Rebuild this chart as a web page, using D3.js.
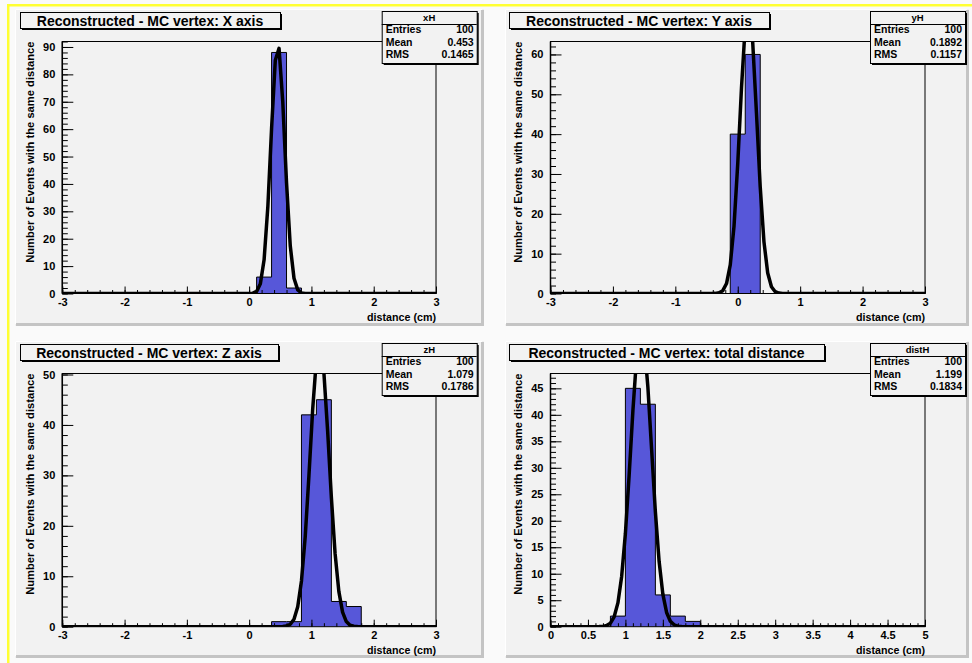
<!DOCTYPE html>
<html lang="en">
<head>
<meta charset="utf-8">
<title>Reconstructed - MC vertex</title>
<script src="https://d3js.org/d3.v7.min.js"></script>
<style>
  body { margin: 0; background: #fff; }
  svg text { font-family: "Liberation Sans", Arial, Helvetica, sans-serif; font-weight: bold; fill: #000; }
</style>
</head>
<body>
<script>
// titles and stats box texts
const titles = [
  "Reconstructed - MC vertex: X axis",
  "Reconstructed - MC vertex: Y axis",
  "Reconstructed - MC vertex: Z axis",
  "Reconstructed - MC vertex: total distance"
];
const histNames = ["xH", "yH", "zH", "distH"];
const entries = ["100", "100", "100", "100"];
const means = ["0.453", "0.1892", "1.079", "1.199"];
const rmsValues = ["0.1465", "0.1157", "0.1786", "0.1834"];

// axis ranges
const xRanges = [[-3, 3], [-3, 3], [-3, 3], [0, 5]];
const yMaxes = [92, 63.25, 50.2, 47.8];
const xMajorStep = [1, 1, 1, 0.5];
const xMinorStep = [0.2, 0.2, 0.2, 0.1];
const yMajorStep = [10, 10, 10, 5];
const yMinorStep = [2, 2, 2, 1];

// bin contents (25 bins each)
const xCounts    = [0,0,0,0,0,0,0,0,0,0,0,0,0,6,88,2,0,0,0,0,0,0,0,0,0];
const yCounts    = [0,0,0,0,0,0,0,0,0,0,0,0,40,60,0,0,0,0,0,0,0,0,0,0,0];
const zCounts    = [0,0,0,0,0,0,0,0,0,0,0,0,0,0,1,1,42,45,5,4,0,0,0,0,0];
const distCounts = [0,0,0,0,2,45,42,6,2,1,0,0,0,0,0,0,0,0,0,0,0,0,0,0,0];
const allCounts = [xCounts, yCounts, zCounts, distCounts];

// gaussian fit parameters
const fitConst = [91, 72, 56, 56];
const fitMean = [0.46, 0.17, 1.13, 1.21];
const fitSigma = [0.11, 0.135, 0.152, 0.138];

const W = 972, H = 663;
const svg = d3.select("body").append("svg").attr("width", W).attr("height", H);

svg.append("rect").attr("width", W).attr("height", H).attr("fill", "#fafafa");
// yellow selection edge
svg.append("rect").attr("x", 7).attr("y", 4).attr("width", W - 7).attr("height", 2.5).attr("fill", "#ffff33");
svg.append("rect").attr("x", 7).attr("y", 4).attr("width", 2.5).attr("height", H - 4).attr("fill", "#ffff33");

const padX = [15, 505], padW = [469, 464];
const padY = [9, 341], padH = 317;
const frameX0 = [62.3, 550.5], frameX1 = [436, 925];
const frameY0 = [41.5, 373.5], frameY1 = [293.5, 626.7];
const titleX = [20, 509, 20, 509], titleW = [260, 260, 258, 315];
const statX = [381.7, 870];
const histFill = "#5757d9";

function fmt(v) { return String(+v.toFixed(2)); }
function stepValues(lo, hi, step) {
  const n = Math.round((hi - lo) / step);
  return d3.range(n + 1).map(k => +(lo + k * step).toFixed(4));
}

titles.forEach((title, i) => {
  const col = i % 2, row = Math.floor(i / 2);
  const g = svg.append("g");

  // pad
  g.append("rect").attr("x", padX[col]).attr("y", padY[row]).attr("width", padW[col]).attr("height", padH)
    .attr("fill", "#f2f2f2");
  g.append("path")
    .attr("d", `M${padX[col] + padW[col] - 1.5},${padY[row] + 1}V${padY[row] + padH - 1.5}H${padX[col] + 1}`)
    .attr("fill", "none").attr("stroke", "#c4c4c4").attr("stroke-width", 3);
  g.append("path")
    .attr("d", `M${padX[col] + 0.5},${padY[row] + padH - 2}V${padY[row] + 0.5}H${padX[col] + padW[col] - 2}`)
    .attr("fill", "none").attr("stroke", "#ffffff").attr("stroke-width", 1);

  const [lo, hi] = xRanges[i];
  const x = d3.scaleLinear().domain([lo, hi]).range([frameX0[col], frameX1[col]]);
  const y = d3.scaleLinear().domain([0, yMaxes[i]]).range([frameY1[row], frameY0[row]]);

  svg.append("clipPath").attr("id", "clip" + i).append("rect")
    .attr("x", frameX0[col]).attr("y", frameY0[row])
    .attr("width", frameX1[col] - frameX0[col]).attr("height", frameY1[row] - frameY0[row]);

  // histogram
  const counts = allCounts[i];
  const bw = (hi - lo) / counts.length;
  const bins = counts.map((c, k) => ({ x: lo + k * bw, c: c }));
  bins.push({ x: hi, c: 0 });

  g.append("path").datum(bins)
    .attr("d", d3.area().curve(d3.curveStepAfter).x(d => x(d.x)).y0(y(0)).y1(d => y(d.c)))
    .attr("fill", histFill).attr("clip-path", `url(#clip${i})`);
  g.append("path").datum(bins)
    .attr("d", d3.line().curve(d3.curveStepAfter).x(d => x(d.x)).y(d => y(d.c)))
    .attr("fill", "none").attr("stroke", "#000").attr("stroke-width", 1).attr("clip-path", `url(#clip${i})`);

  // gaussian fit, sampled like ROOT (100 steps)
  const fitPts = d3.range(101).map(k => {
    const xv = lo + k * (hi - lo) / 100;
    const z = (xv - fitMean[i]) / fitSigma[i];
    return [xv, fitConst[i] * Math.exp(-0.5 * z * z)];
  });
  g.append("path").datum(fitPts)
    .attr("d", d3.line().x(d => x(d[0])).y(d => y(d[1])))
    .attr("fill", "none").attr("stroke", "#000").attr("stroke-width", 3.5)
    .attr("stroke-linejoin", "round").attr("clip-path", `url(#clip${i})`);

  // frame
  g.append("rect").attr("x", frameX0[col]).attr("y", frameY0[row])
    .attr("width", frameX1[col] - frameX0[col]).attr("height", frameY1[row] - frameY0[row])
    .attr("fill", "none").attr("stroke", "#000").attr("stroke-width", 1);

  // axes with ticks inside the frame
  const xMinor = g.append("g").attr("transform", `translate(0,${frameY1[row]})`)
    .call(d3.axisBottom(x).tickValues(stepValues(lo, hi, xMinorStep[i])).tickSize(-3.5).tickSizeOuter(0).tickFormat(""));
  const xMajor = g.append("g").attr("transform", `translate(0,${frameY1[row]})`)
    .call(d3.axisBottom(x).tickValues(stepValues(lo, hi, xMajorStep[i])).tickSize(-7).tickSizeOuter(0).tickPadding(5).tickFormat(fmt));
  const yTop = Math.floor(yMaxes[i] / yMinorStep[i]) * yMinorStep[i];
  const yMinor = g.append("g").attr("transform", `translate(${frameX0[col]},0)`)
    .call(d3.axisLeft(y).tickValues(stepValues(0, yTop, yMinorStep[i])).tickSize(-5.5).tickSizeOuter(0).tickFormat(""));
  const yTopMajor = Math.floor(yMaxes[i] / yMajorStep[i]) * yMajorStep[i];
  const yMajor = g.append("g").attr("transform", `translate(${frameX0[col]},0)`)
    .call(d3.axisLeft(y).tickValues(stepValues(0, yTopMajor, yMajorStep[i])).tickSize(-11).tickSizeOuter(0).tickPadding(7).tickFormat(fmt));
  [xMinor, xMajor, yMinor, yMajor].forEach(a => a.select(".domain").remove());
  g.selectAll(".tick text").style("font-size", "11px");

  // axis line emphasis
  g.append("line").attr("x1", frameX0[col]).attr("x2", frameX0[col])
    .attr("y1", frameY0[row]).attr("y2", frameY1[row]).attr("stroke", "#000").attr("stroke-width", 1.5);

  // axis titles
  g.append("text").attr("x", frameX1[col]).attr("y", frameY1[row] + 27)
    .attr("text-anchor", "end").style("font-size", "10.7px").text("distance (cm)");
  g.append("text").attr("transform", `translate(${frameX0[col] - 28.5},${frameY0[row]}) rotate(-90)`)
    .attr("text-anchor", "end").style("font-size", "11.2px").text("Number of Events with the same distance");

  // title box
  const ty = padY[row] + 3;
  g.append("rect").attr("x", titleX[i] + 2).attr("y", ty + 2).attr("width", titleW[i]).attr("height", 16).attr("fill", "#000");
  g.append("rect").attr("x", titleX[i] + 0.5).attr("y", ty + 0.5).attr("width", titleW[i]).attr("height", 16)
    .attr("fill", "#f2f2f2").attr("stroke", "#000").attr("stroke-width", 1);
  g.append("text").attr("x", titleX[i] + titleW[i] / 2).attr("y", ty + 13.5)
    .attr("text-anchor", "middle").style("font-size", "14px").text(title);

  // stats box
  const sx = statX[col], sy = padY[row] + 2, sw = 95, sh = 52;
  g.append("rect").attr("x", sx + 2).attr("y", sy + 2).attr("width", sw).attr("height", sh).attr("fill", "#000");
  g.append("rect").attr("x", sx + 0.5).attr("y", sy + 0.5).attr("width", sw).attr("height", sh)
    .attr("fill", "#f2f2f2").attr("stroke", "#000").attr("stroke-width", 1);
  g.append("line").attr("x1", sx).attr("x2", sx + sw).attr("y1", sy + 13.5).attr("y2", sy + 13.5)
    .attr("stroke", "#000").attr("stroke-width", 1);
  g.append("text").attr("x", sx + sw / 2).attr("y", sy + 10).attr("text-anchor", "middle")
    .style("font-size", "9.5px").text(histNames[i]);
  const rows = [["Entries", entries[i]], ["Mean", means[i]], ["RMS", rmsValues[i]]];
  rows.forEach((r, k) => {
    const by = sy + 22 + k * 12.5;
    g.append("text").attr("x", sx + 4).attr("y", by).style("font-size", "10.5px").text(r[0]);
    g.append("text").attr("x", sx + sw - 3).attr("y", by).attr("text-anchor", "end").style("font-size", "10.5px").text(r[1]);
  });
});
</script>
</body>
</html>
